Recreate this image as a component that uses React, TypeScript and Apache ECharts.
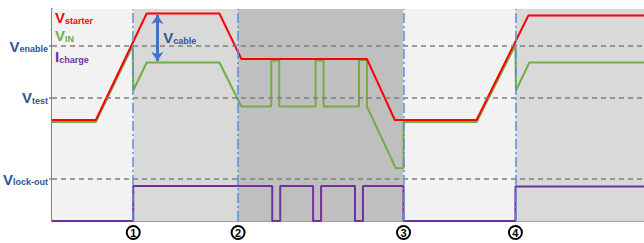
import React, { useEffect, useRef } from "react";
import * as echarts from "echarts";

// time axis in arbitrary units (0..594), voltage/current in arbitrary units (0..212)
const starterT = [0, 44, 95, 168, 190, 316, 344, 426, 478, 594];
const starterV = [101, 101, 207.5, 207.5, 162, 162, 101, 101, 205.5, 205.5];

const vinT = [0, 44, 81, 81.5, 95, 168, 190, 220, 220, 228, 228, 264.5, 264.5, 272.5, 272.5, 308, 308, 316, 316, 345, 352.7, 352.7, 426, 465, 465.5, 479, 594];
const vinV = [99, 99, 175.5, 130.5, 158.5, 158.5, 114.5, 114.5, 160.5, 160.5, 114.5, 114.5, 160.5, 160.5, 114.5, 114.5, 161, 161, 114.5, 52.7, 52.7, 99, 99, 176, 130.5, 158.5, 158.5];

const chargeT = [0, 81.5, 81.5, 221, 221, 229, 229, 262, 262, 270, 270, 304, 304, 312, 312, 352.7, 352.7, 465, 465, 594];
const chargeV = [0, 0, 35, 35, 0, 0, 35, 35, 0, 0, 35, 35, 0, 0, 35, 35, 0, 0, 34.5, 34.5];

const phaseBounds = [0, 81.5, 186.7, 352.7, 465, 594];
const phaseColors = ["#f2f2f2", "#d9d9d9", "#bfbfbf", "#f2f2f2", "#d9d9d9"];
const phaseMarks = [81.5, 186.7, 352.7, 465];
const phaseLabels = ["1", "2", "3", "4"];

const levelValues = [42.3, 123.7, 175.5];
const levelMain = ["V", "V", "V"];
const levelSub = ["lock-out", "test", "enable"];

const seriesMain = ["V", "V", "I"];
const seriesSub = ["starter", "IN", "charge"];
const seriesColors = ["#ff0000", "#70ad47", "#7030a0"];

const cableT = 105.7;
const cableTop = 206;
const cableBottom = 160;

const zip = (t: number[], v: number[]) => t.map((x, i) => [x, v[i]]);

const BLUE_TXT = "#2f5597";
const FONT = "Liberation Sans";

export default function App() {
  const ref = useRef<HTMLDivElement>(null);
  useEffect(() => {
    if (!ref.current) return;
    document.body.style.margin = "0";
    const chart = echarts.init(ref.current, undefined, { renderer: "svg" });
    const subRich = (color: string) => ({
      v: { fontSize: 15, fontWeight: "bold", color, fill: color, fontFamily: FONT, verticalAlign: "bottom", lineHeight: 16 },
      s: { fontSize: 9, fontWeight: "bold", color, fill: color, fontFamily: FONT, verticalAlign: "bottom", lineHeight: 12 },
    });
    chart.setOption({
      animation: false,
      grid: { left: 50, right: 0, top: 9, bottom: 22 },
      xAxis: {
        type: "value",
        min: 0,
        max: 594,
        splitLine: { show: false },
        axisLine: { show: true, lineStyle: { color: "#5b87c9", width: 1.5 } },
        axisTick: { show: false },
        axisLabel: {
          show: true,
          customValues: phaseMarks,
          margin: 6,
          formatter: (val: number) => {
            const i = phaseMarks.indexOf(val);
            return i >= 0 ? "{c|" + phaseLabels[i] + "}" : "";
          },
          rich: {
            c: {
              width: 11,
              height: 11,
              lineHeight: 11,
              borderRadius: 7,
              borderWidth: 2,
              borderColor: "#000",
              align: "center",
              fontSize: 11,
              fontWeight: "bold",
              color: "#000",
              fontFamily: FONT,
              padding: [1, 1, 1, 1],
            },
          },
        },
      },
      yAxis: {
        type: "value",
        min: 0,
        max: 212,
        splitLine: { show: false },
        axisLine: { show: true, lineStyle: { color: "#5b87c9", width: 2 } },
        axisTick: { show: true, customValues: levelValues, length: 3, lineStyle: { color: "#7f7f7f", width: 1.5 } },
        axisLabel: {
          show: true,
          customValues: levelValues,
          margin: 4,
          formatter: (val: number) => {
            const i = levelValues.indexOf(val);
            return i >= 0 ? "{v|" + levelMain[i] + "}{s|" + levelSub[i] + "}" : "";
          },
          rich: subRich(BLUE_TXT),
        },
      },
      series: [
        {
          type: "line",
          data: [],
          z: 0,
          silent: true,
          markArea: {
            silent: true,
            data: phaseColors.map((c, i) => [
              { xAxis: phaseBounds[i], yAxis: 0, itemStyle: { color: c } },
              { xAxis: phaseBounds[i + 1], yAxis: 212 },
            ]),
          },
        },
        {
          type: "line",
          data: [],
          z: 1,
          silent: true,
          markLine: {
            silent: true,
            symbol: "none",
            label: { show: false },
            data: [
              ...levelValues.map((v) => ({ yAxis: v, lineStyle: { color: "#7f7f7f", width: 1.5, type: [5, 4] } })),
              ...phaseMarks.map((x) => ({ xAxis: x, lineStyle: { color: "#5b8fd6", width: 1.5, type: [10, 3, 2, 3] } })),
            ],
          },
        },
        {
          name: "Vstarter",
          type: "line",
          data: zip(starterT, starterV),
          symbol: "none",
          z: 4,
          clip: false,
          lineStyle: { color: seriesColors[0], width: 2 },
        },
        {
          name: "VIN",
          type: "line",
          data: zip(vinT, vinV),
          symbol: "none",
          z: 3,
          clip: false,
          lineStyle: { color: seriesColors[1], width: 2 },
        },
        {
          name: "Icharge",
          type: "line",
          data: zip(chargeT, chargeV),
          symbol: "none",
          z: 3,
          clip: false,
          lineStyle: { color: seriesColors[2], width: 2 },
        },
        {
          type: "line",
          data: [],
          z: 5,
          silent: true,
          markLine: {
            silent: true,
            symbol: ["arrow", "arrow"],
            symbolSize: [9, 9],
            label: { show: false },
            lineStyle: { color: "#4472c4", width: 3, type: "solid" },
            data: [[{ coord: [cableT, cableTop] }, { coord: [cableT, cableBottom] }]],
          },
          markPoint: {
            silent: true,
            symbol: "circle",
            symbolSize: 0,
            data: [
              {
                coord: [cableT + 6, (cableTop + cableBottom) / 2 + 1],
                label: {
                  show: true,
                  position: "right",
                  distance: 0,
                  formatter: "{v|V}{s|cable}",
                  rich: subRich(BLUE_TXT),
                },
              },
            ],
          },
        },
      ],
      graphic: seriesMain.map((m, i) => ({
        type: "text",
        z: 100,
        left: 55,
        top: [10, 28, 49][i],
        style: { text: "{v|" + m + "}{s|" + seriesSub[i] + "}", rich: subRich(seriesColors[i]) },
      })),
    });
    return () => chart.dispose();
  }, []);
  return <div ref={ref} style={{ width: 644, height: 243 }} />;
}
